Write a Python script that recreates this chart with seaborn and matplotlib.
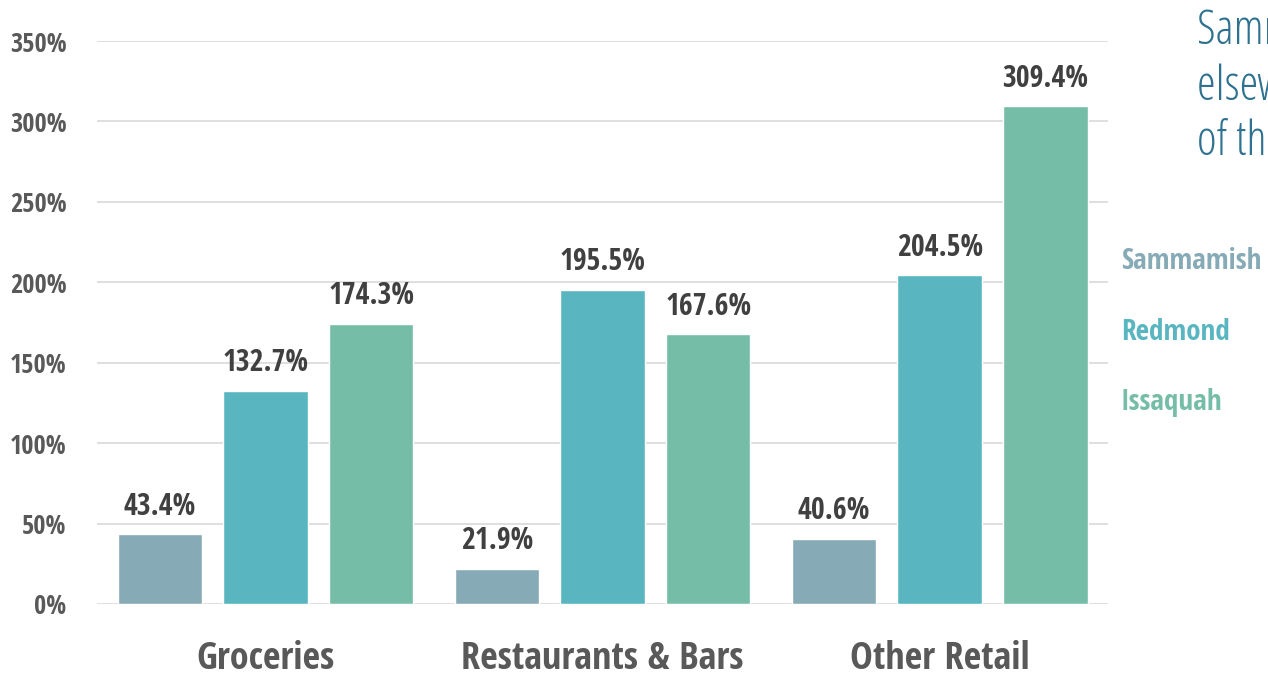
import matplotlib
matplotlib.use("Agg")
import matplotlib.pyplot as plt
from matplotlib import font_manager
import pandas as pd
import seaborn as sns

# ─── Data ────────────────────────────────────────────────────────────────────
categories = ["Groceries", "Restaurants & Bars", "Other Retail"]
cities     = ["Sammamish", "Redmond", "Issaquah"]
sammamish  = [43.4, 21.9, 40.6]
redmond    = [132.7, 195.5, 204.5]
issaquah   = [174.3, 167.6, 309.4]
yticks     = [0, 50, 100, 150, 200, 250, 300, 350]
palette    = ["#87abb6", "#59b6c1", "#75bda7"]

df = pd.DataFrame({
    "category": categories * 3,
    "city":     [c for c in cities for _ in categories],
    "value":    sammamish + redmond + issaquah,
})

# ─── Fonts: prefer a condensed sans if one is installed ──────────────────────
ttf = font_manager.fontManager.ttflist
cond = [f for f in ttf if "Open Sans" in f.name
        and f.stretch in ("condensed", "semi-condensed", 75, 87.5)]
cond_light = [f for f in cond if isinstance(f.weight, int) and f.weight < 400
              or f.weight in ("light", "extra light")]
FAMILY = cond[0].name if cond else "Open Sans"
if cond_light:
    HEAD_PROPS = font_manager.FontProperties(fname=cond_light[0].fname)
else:
    HEAD_PROPS = font_manager.FontProperties(family="Open Sans", weight="light")
HEAD_PROPS.set_size(34)

sns.set_style("white")
plt.rcParams["font.family"] = [FAMILY, "DejaVu Sans"]
plt.rcParams["font.stretch"] = "condensed"

# ─── Plot ────────────────────────────────────────────────────────────────────
fig = plt.figure(figsize=(12.68, 6.79), dpi=100)
ax = fig.add_axes([0.0765, 0.1105, 0.7975, 0.8291])

sns.barplot(data=df, x="category", y="value", hue="city", order=categories,
            hue_order=cities, palette=palette, width=0.94, gap=0.2,
            saturation=1, legend=False, ax=ax)

for cont in ax.containers:
    ax.bar_label(cont, labels=[f"{v:.1f}%" for v in cont.datavalues],
                 padding=9, fontsize=21.5, fontweight="bold", color="#404040")

ax.set_ylim(0, 350)
ax.set_xlim(-0.5, 2.5)
ax.set_yticks(yticks)
ax.set_yticklabels([f"{t}%" for t in yticks], fontsize=19,
                   fontweight="bold", color="#595959")
ax.set_xticks(range(len(categories)))
ax.set_xticklabels(categories, fontsize=27.5, fontweight="bold", color="#595959")
ax.tick_params(axis="y", length=0, pad=22)
ax.tick_params(axis="x", length=0, pad=26)
ax.set_xlabel("")
ax.set_ylabel("")
ax.yaxis.grid(True, color="#d9d9d9", linewidth=1.2)
ax.set_axisbelow(True)
sns.despine(ax=ax, left=True, bottom=True, top=True, right=True)

# legend as coloured text on the right
for i, (city, col) in enumerate(zip(cities, palette)):
    fig.text(0.884, 0.615 - i * 0.104, city, fontsize=21, fontweight="bold",
             color=col, va="center", ha="left")

# headline text, cut off by the right edge as in the source layout
fig.text(0.944, 0.99,
         "Sammamish residents spend\nelsewhere a large share\nof their retail dollars",
         fontproperties=HEAD_PROPS, color="#2e7190", va="top", ha="left",
         linespacing=1.2)

fig.savefig("out.png", dpi=100)
plt.close(fig)
